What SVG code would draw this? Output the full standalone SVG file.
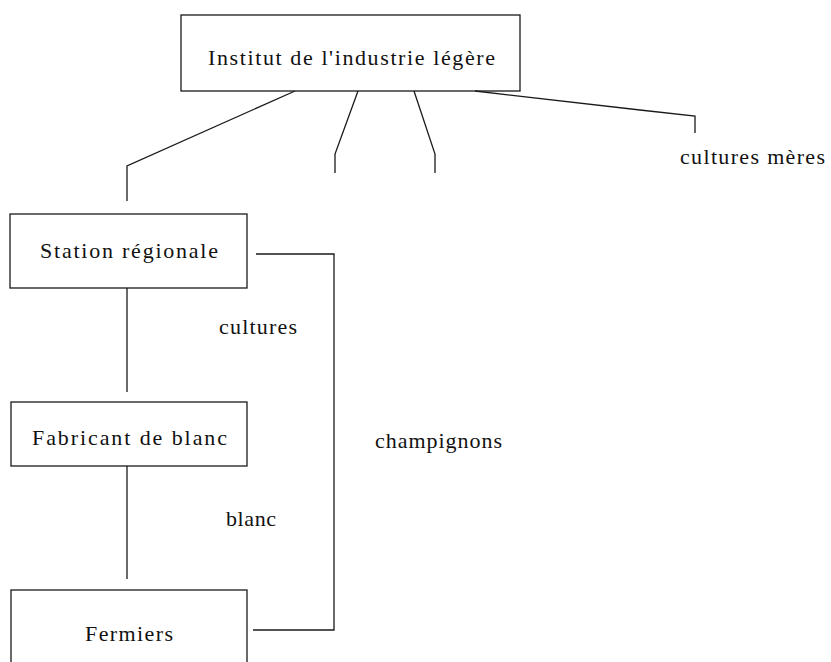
<svg xmlns="http://www.w3.org/2000/svg" width="831" height="662" viewBox="0 0 831 662">
<style>
.box{fill:none;stroke:#1a1a1a;stroke-width:1.3}
.ln{fill:none;stroke:#1a1a1a;stroke-width:1.3}
text{font-family:"Liberation Serif","Times New Roman",serif;font-size:22px;fill:#111}
</style>
<rect width="831" height="662" fill="#fff"/>
<g id="connectors">
<polyline class="ln" points="295,91 127,166 127,201"/>
<polyline class="ln" points="358,91 335,154 335,173"/>
<polyline class="ln" points="414,91 435,154 435,173"/>
<polyline class="ln" points="475,91 640,110 695,116 695,133"/>
<line class="ln" x1="127" y1="288" x2="127" y2="392"/>
<line class="ln" x1="127" y1="466" x2="127" y2="579"/>
<polyline class="ln" points="256,254 334,254 334,630 253,630"/>
</g>
<g id="label-cultures-meres"><text x="680" y="164" textLength="145" lengthAdjust="spacing">cultures mères</text></g>
<g id="label-cultures"><text x="219" y="334" textLength="78" lengthAdjust="spacing">cultures</text></g>
<g id="label-champignons"><text x="375" y="448" textLength="127" lengthAdjust="spacing">champignons</text></g>
<g id="label-blanc"><text x="226" y="526" textLength="50" lengthAdjust="spacing">blanc</text></g>
<g id="node-institut">
<rect class="box" x="181" y="15" width="339" height="76"/>
<text x="208" y="65" textLength="287" lengthAdjust="spacing">Institut de l'industrie légère</text>
</g>
<g id="node-station">
<rect class="box" x="10" y="214" width="237" height="74"/>
<text x="40" y="258" textLength="178" lengthAdjust="spacing">Station régionale</text>
</g>
<g id="node-fabricant">
<rect class="box" x="11" y="402" width="236" height="64"/>
<text x="32" y="445" textLength="195" lengthAdjust="spacing">Fabricant de blanc</text>
</g>
<g id="node-fermiers">
<rect class="box" x="11" y="590" width="236" height="90"/>
<text x="85" y="641" textLength="88" lengthAdjust="spacing">Fermiers</text>
</g>
</svg>
